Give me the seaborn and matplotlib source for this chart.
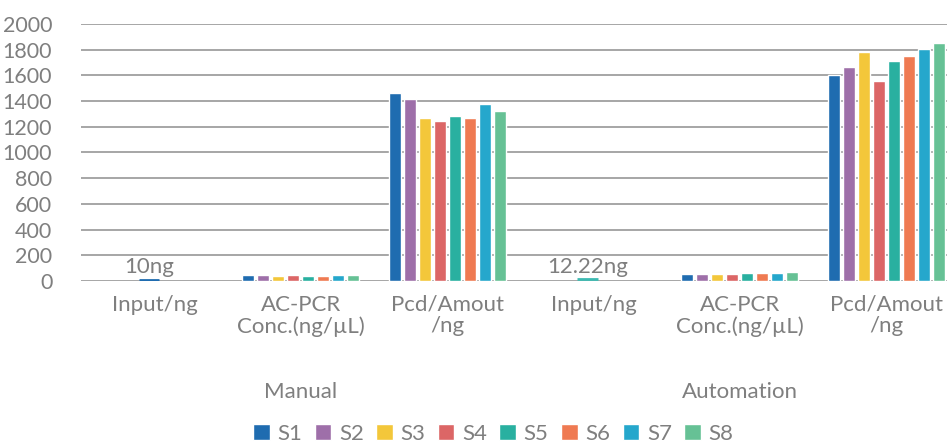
import numpy as np
import pandas as pd
import matplotlib
matplotlib.use("Agg")
import matplotlib.pyplot as plt
import matplotlib.transforms as mtransforms
import seaborn as sns

# chart data
samples = ["S1", "S2", "S3", "S4", "S5", "S6", "S7", "S8"]
groups = ["Manual", "Automation"]
metrics = ["Input/ng", "AC-PCR\nConc.(ng/\u00b5L)", "Pcd/Amout\n/ng"]
input_amount = [10, 12.22]
input_labels = ["10ng", "12.22ng"]
manual_conc = [44, 43, 37, 44, 37, 38, 45, 44]
auto_conc = [58, 58, 57, 58, 66, 65, 66, 73]
manual_pcd = [1460, 1413, 1272, 1248, 1287, 1272, 1374, 1319]
auto_pcd = [1600, 1665, 1783, 1556, 1712, 1752, 1807, 1853]
colors = ["#1f6cb0", "#9e6fa9", "#f3c73a", "#dc6666",
          "#29b0a0", "#ef7a52", "#25a7cc", "#66c195"]

# long table, one row per bar
cats = [f"{g}|{m}" for g in groups for m in metrics]
rows = []
for gi, g in enumerate(groups):
    conc = [manual_conc, auto_conc][gi]
    pcd = [manual_pcd, auto_pcd][gi]
    for si, s in enumerate(samples):
        rows.append((f"{g}|{metrics[0]}", s, np.nan))
        rows.append((f"{g}|{metrics[1]}", s, conc[si]))
        rows.append((f"{g}|{metrics[2]}", s, pcd[si]))
df = pd.DataFrame(rows, columns=["cat", "sample", "value"])

sns.set_theme(style="white")
plt.rcParams["font.family"] = ["Lato", "DejaVu Sans"]
gray = "#7f7f7f"
fs = 16

fig = plt.figure(figsize=(9.47, 4.48), dpi=100)
ax = fig.add_axes([0.086, 0.3728, 0.927, 0.5737])

sns.barplot(data=df, x="cat", y="value", hue="sample", order=cats,
            hue_order=samples, palette=colors, width=0.82, gap=0.2,
            saturation=1, ax=ax, legend=True)

ax.set_xlim(-0.5, len(cats) - 0.5)
ax.set_ylim(0, 2000)
ax.set_yticks(range(0, 2001, 200))
ax.yaxis.grid(True, color="#a6a6a6", linewidth=1.4)
ax.set_axisbelow(True)
for sp in ax.spines.values():
    sp.set_visible(False)
ax.set_xlabel("")
ax.set_ylabel("")
ax.set_xticks(range(len(cats)))
ax.set_xticklabels([c.split("|")[1] for c in cats], fontsize=fs,
                   color=gray, linespacing=1.1, va="top")
ax.tick_params(axis="x", length=0, pad=10)
ax.tick_params(axis="y", length=0, pad=21, labelsize=15.5, labelcolor=gray)

# input amount: short line + label
for gi in range(len(groups)):
    xi = cats.index(f"{groups[gi]}|{metrics[0]}")
    c = colors[0] if gi == 0 else "#3dbab2"
    ax.hlines(input_amount[gi], xi - 0.11, xi + 0.03, color=c, linewidth=2)
    ax.text(xi - 0.04, input_amount[gi] + 20, input_labels[gi],
            ha="center", va="bottom", fontsize=fs, color=gray)

# group labels
trans = mtransforms.blended_transform_factory(ax.transData, ax.transAxes)
for gi, g in enumerate(groups):
    ax.text(gi * 3 + 1, -0.43, g, transform=trans, ha="center",
            va="center", fontsize=fs, color=gray)

handles, labels = ax.get_legend_handles_labels()
ax.legend_.remove()
fig.legend(handles, labels, loc="center", bbox_to_anchor=(0.521, 0.032),
           ncol=8, frameon=False, fontsize=fs, handlelength=0.75,
           handleheight=0.75, handletextpad=0.35, columnspacing=0.55,
           labelcolor=gray, borderpad=0.2)

fig.savefig("out.png", dpi=100)
